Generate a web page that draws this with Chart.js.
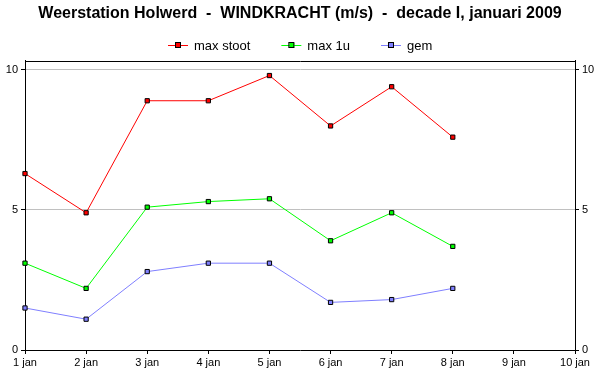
<!DOCTYPE html>
<html>
<head>
<meta charset="utf-8">
<title>Windkracht Holwerd</title>
<script src="https://cdn.jsdelivr.net/npm/chart.js@4/dist/chart.umd.min.js"></script>
<style>
  html, body { margin: 0; padding: 0; background: #fff; }
</style>
</head>
<body>
<canvas id="windChart" width="600" height="390"></canvas>
<script>
// dagen van de decade
var dagen = ['1 jan', '2 jan', '3 jan', '4 jan', '5 jan', '6 jan', '7 jan', '8 jan', '9 jan', '10 jan'];

// windkracht in m/s (9 en 10 jan nog geen gegevens)
var maxStoot = [6.3, 4.9, 8.9, 8.9, 9.8, 8.0, 9.4, 7.6];
var max1u = [3.1, 2.2, 5.1, 5.3, 5.4, 3.9, 4.9, 3.7];
var gem = [1.5, 1.1, 2.8, 3.1, 3.1, 1.7, 1.8, 2.2];

var yTicks = [0, 5, 10];

var lettertype = "'Liberation Sans', Arial, sans-serif";

function reeks(label, data, kleur) {
    return {
        label: label,
        data: data,
        borderColor: kleur,
        backgroundColor: kleur,
        borderWidth: 1,
        tension: 0,
        pointStyle: 'rect',
        pointRadius: 3,
        pointHoverRadius: 3,
        pointBackgroundColor: kleur,
        pointBorderColor: '#000',
        pointBorderWidth: 1
    };
}

// kader rond het plotgebied + legenda met lijntje en blokje
var kaderEnLegenda = {
    id: 'kaderEnLegenda',
    afterDraw: function (chart) {
        var ctx = chart.ctx;
        var a = chart.chartArea;
        ctx.save();
        ctx.strokeStyle = '#000';
        ctx.lineWidth = 1;
        ctx.beginPath();
        ctx.moveTo(a.left, Math.round(a.top) + 0.5);
        ctx.lineTo(a.right + 1, Math.round(a.top) + 0.5);
        ctx.stroke();

        // legenda
        ctx.font = '13px ' + lettertype;
        ctx.textBaseline = 'middle';
        ctx.textAlign = 'left';
        var sets = chart.data.datasets;
        var breedtes = sets.map(function (ds) { return 20 + 6 + ctx.measureText(ds.label).width; });
        var tussen = 31;
        var totaal = breedtes.reduce(function (s, b) { return s + b; }, 0) + tussen * (sets.length - 1);
        var x = Math.round(chart.width / 2 - totaal / 2);
        var y = 45;
        sets.forEach(function (ds, i) {
            ctx.strokeStyle = ds.borderColor;
            ctx.beginPath();
            ctx.moveTo(x, y + 0.5);
            ctx.lineTo(x + 20, y + 0.5);
            ctx.stroke();
            ctx.fillStyle = ds.borderColor;
            ctx.fillRect(x + 8, y - 2, 5, 5);
            ctx.strokeStyle = '#000';
            ctx.strokeRect(x + 7.5, y - 2.5, 5, 5);
            ctx.fillStyle = '#000';
            ctx.fillText(ds.label, x + 26, y + 1);
            x += breedtes[i] + tussen;
        });
        ctx.restore();
    }
};

var ctx = document.getElementById('windChart').getContext('2d');

var windChart = new Chart(ctx, {
    type: 'line',
    data: {
        labels: dagen,
        datasets: [
            reeks('max stoot', maxStoot, '#ff0000'),
            reeks('max 1u', max1u, '#00ff00'),
            reeks('gem', gem, '#7f7fff')
        ]
    },
    options: {
        responsive: false,
        animation: false,
        devicePixelRatio: 1,
        layout: { padding: 0 },
        plugins: {
            legend: { display: false },
            tooltip: { enabled: false },
            title: {
                display: true,
                text: 'Weerstation Holwerd  -  WINDKRACHT (m/s)  -  decade I, januari 2009',
                color: '#000',
                font: { family: lettertype, size: 16, weight: 'bold' },
                padding: { top: 4, bottom: 37.5 }
            }
        },
        scales: {
            x: {
                type: 'category',
                offset: false,
                grid: { drawOnChartArea: false, drawTicks: true, tickLength: 4, tickColor: '#000' },
                border: { color: '#000' },
                ticks: {
                    color: '#000',
                    font: { family: lettertype, size: 11 },
                    padding: 2,
                    maxRotation: 0,
                    autoSkip: false
                },
                afterFit: function (scale) { scale.height = 40; }
            },
            y: {
                position: 'left',
                min: 0,
                max: 10.33,
                afterBuildTicks: function (scale) {
                    scale.ticks = yTicks.map(function (v) { return { value: v }; });
                },
                grid: {
                    color: function (c) { return c.tick && c.tick.value === 0 ? 'rgba(0,0,0,0)' : '#c0c0c0'; },
                    tickColor: '#000',
                    tickLength: 4
                },
                border: { color: '#000' },
                ticks: { color: '#000', font: { family: lettertype, size: 11 }, padding: 3 },
                afterFit: function (scale) { scale.width = 25; }
            },
            y2: {
                position: 'right',
                min: 0,
                max: 10.33,
                afterBuildTicks: function (scale) {
                    scale.ticks = yTicks.map(function (v) { return { value: v }; });
                },
                grid: { drawOnChartArea: false, tickColor: '#000', tickLength: 4 },
                border: { color: '#000' },
                ticks: { color: '#000', font: { family: lettertype, size: 11 }, padding: 3 },
                afterFit: function (scale) { scale.width = 25; }
            }
        }
    },
    plugins: [kaderEnLegenda]
});
</script>
</body>
</html>
